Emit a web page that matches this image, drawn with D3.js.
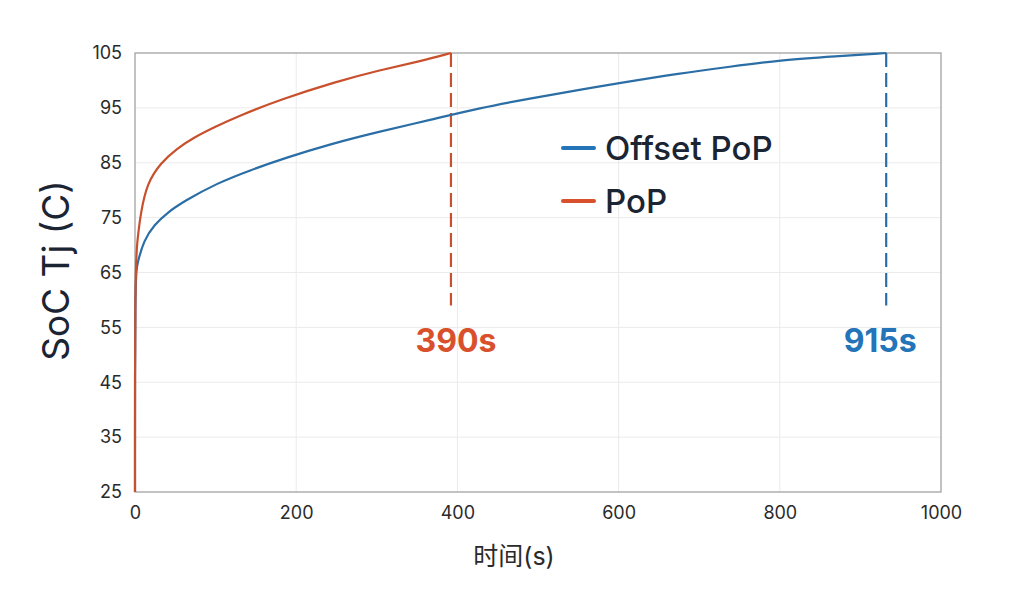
<!DOCTYPE html>
<html>
<head>
<meta charset="utf-8">
<script src="https://cdn.jsdelivr.net/npm/d3@7"></script>
<style>
  body { margin: 0; background: #fff; }
  text { font-family: Inter, "Noto Sans", "Noto Sans CJK SC", sans-serif; }
</style>
</head>
<body>
<div id="chart"></div>
<script>
const width = 1024;
const height = 594;

// PoP series (time in s, temperature in C)
const popTime = [0, 0, 3, 7, 15, 32, 52, 73, 100, 130, 180, 250, 304, 354, 392];
const popTemp = [25, 66, 70.9, 75.8, 81.3, 85.0, 87.6, 89.6, 91.6, 93.6, 96.5, 99.8, 101.9, 103.5, 105];

// Offset PoP series
const offsetTime = [0, 0, 3, 11, 24, 40, 61, 102, 144, 185, 242, 304, 366, 428, 490, 552, 600, 676, 738, 800, 870, 932];
const offsetTemp = [25, 64.5, 66.7, 70.9, 73.7, 75.9, 78.0, 81.3, 83.7, 85.8, 88.4, 90.7, 92.8, 95.0, 96.7, 98.3, 99.5, 101.3, 102.5, 103.7, 104.4, 105];

const seriesNames = ["Offset PoP", "PoP"];
const markerLabels = ["915s", "390s"];
const markerFloor = 59; // where the dashed markers stop

const xTicks = [0, 200, 400, 600, 800, 1000];
const yTicks = [25, 35, 45, 55, 65, 75, 85, 95, 105];

const margin = { top: 53, right: 83, bottom: 102, left: 135 };
const innerW = width - margin.left - margin.right;
const innerH = height - margin.top - margin.bottom;

const lineColor = { "Offset PoP": "#2b6ea6", "PoP": "#c8502d" };
const textColor = { "Offset PoP": "#2374b8", "PoP": "#d9512c" };

const series = [
    { name: seriesNames[0], label: markerLabels[0], points: offsetTime.map((t, i) => ({ t, v: offsetTemp[i] })) },
    { name: seriesNames[1], label: markerLabels[1], points: popTime.map((t, i) => ({ t, v: popTemp[i] })) }
];

const x = d3.scaleLinear().domain([0, 1000]).range([0, innerW]);
const y = d3.scaleLinear().domain([25, 105]).range([innerH, 0]);

const svg = d3.select("#chart").append("svg")
    .attr("width", width)
    .attr("height", height)
    .style("display", "block");

const g = svg.append("g")
    .attr("transform", `translate(${margin.left},${margin.top})`);

// Grid lines
g.append("g").selectAll("line.h")
    .data(yTicks.slice(1, -1))
    .enter().append("line")
    .attr("x1", 0).attr("x2", innerW)
    .attr("y1", d => y(d)).attr("y2", d => y(d))
    .style("stroke", "#ebebeb").style("stroke-width", 1);

g.append("g").selectAll("line.v")
    .data(xTicks.slice(1, -1))
    .enter().append("line")
    .attr("x1", d => x(d)).attr("x2", d => x(d))
    .attr("y1", 0).attr("y2", innerH)
    .style("stroke", "#ebebeb").style("stroke-width", 1);

// Axes (labels only, no tick marks)
const xAxis = g.append("g")
    .attr("transform", `translate(0,${innerH})`)
    .call(d3.axisBottom(x).tickValues(xTicks).tickFormat(d3.format("d")).tickSize(0).tickPadding(14));
xAxis.select(".domain").remove();
xAxis.selectAll("text").style("font-size", "18px").style("fill", "#2a2a2a");

const yAxis = g.append("g")
    .call(d3.axisLeft(y).tickValues(yTicks).tickSize(0).tickPadding(13));
yAxis.select(".domain").remove();
yAxis.selectAll("text").style("font-size", "18px").style("fill", "#2a2a2a");

// Frame
g.append("rect")
    .attr("width", innerW)
    .attr("height", innerH)
    .style("fill", "none")
    .style("stroke", "#9a9a9a")
    .style("stroke-width", 1.2);

// Dashed end markers
g.selectAll(".marker")
    .data(series)
    .enter().append("line")
    .attr("class", "marker")
    .attr("x1", d => x(d.points[d.points.length - 1].t))
    .attr("x2", d => x(d.points[d.points.length - 1].t))
    .attr("y1", d => y(d.points[d.points.length - 1].v))
    .attr("y2", y(markerFloor))
    .style("stroke", d => lineColor[d.name])
    .style("stroke-width", 2.2)
    .style("stroke-dasharray", "14,6");

// Curves
const line = d3.line()
    .x(d => x(d.t))
    .y(d => y(d.v))
    .curve(d3.curveBasis);

g.selectAll(".series")
    .data(series)
    .enter().append("path")
    .attr("class", "series")
    .attr("d", d => line(d.points))
    .style("fill", "none")
    .style("stroke", d => lineColor[d.name])
    .style("stroke-width", 2.2);

// Marker labels
g.selectAll(".marker-label")
    .data(series)
    .enter().append("text")
    .attr("class", "marker-label")
    .attr("x", d => x(d.points[d.points.length - 1].t) - 6 + (d.name === "PoP" ? 11 : 0))
    .attr("y", 299)
    .attr("text-anchor", "middle")
    .style("font-size", "32px")
    .style("font-weight", "700")
    .style("fill", d => textColor[d.name])
    .text(d => d.label);

// Legend
const legend = g.selectAll(".legend")
    .data(series)
    .enter().append("g")
    .attr("class", "legend")
    .attr("transform", (d, i) => `translate(428,${95 + i * 53})`);

legend.append("line")
    .attr("x1", 0).attr("x2", 31)
    .style("stroke", d => d.name === "PoP" ? "#d9512c" : "#2374b8")
    .style("stroke-width", 4)
    .style("stroke-linecap", "round");

legend.append("text")
    .attr("x", 42)
    .attr("y", 12)
    .style("font-size", "33px")
    .style("font-weight", "500")
    .style("fill", "#1b2433")
    .text(d => d.name);

// Axis titles
svg.append("text")
    .attr("transform", `translate(69,${margin.top + innerH / 2 - 2}) rotate(-90)`)
    .attr("text-anchor", "middle")
    .style("font-size", "37px")
    .style("fill", "#1b2433")
    .text("SoC Tj (C)");

svg.append("text")
    .attr("x", 514)
    .attr("y", 565)
    .attr("text-anchor", "middle")
    .style("font-size", "25px")
    .style("fill", "#2a2a2a")
    .text("时间(s)");
</script>
</body>
</html>
